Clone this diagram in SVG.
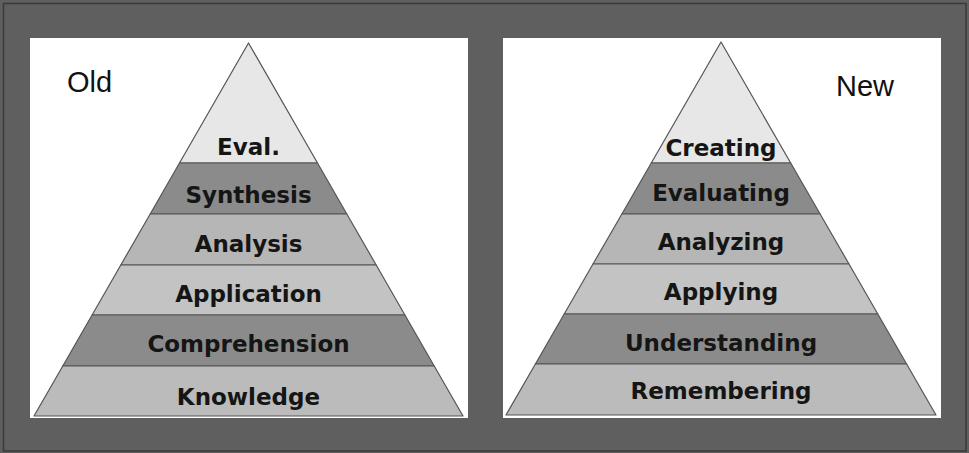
<svg xmlns="http://www.w3.org/2000/svg" width="969" height="453" viewBox="0 0 969 453">
<style>
.band{stroke:#555;stroke-width:1.2;stroke-linejoin:round}
.top{fill:#e7e7e7}
.dark{fill:#8b8b8b}
.mid{fill:#b6b6b6}
.light{fill:#c3c3c3}
.base{fill:#bbbbbb}
.lbl{font-family:"DejaVu Sans","Liberation Sans",sans-serif;font-weight:bold;font-size:23px;fill:#151515;text-anchor:middle}
.title{font-family:"Liberation Sans",Arial,sans-serif;font-size:29px;fill:#111}
</style>
<rect x="0" y="0" width="969" height="453" fill="#5f5f5f"/>
<rect x="3.5" y="3.5" width="962.5" height="447.5" fill="none" stroke="#3a3a3a" stroke-width="1.5"/>
<rect id="panel-old" x="30" y="38" width="438" height="380" fill="#ffffff"/>
<rect id="panel-new" x="503" y="38" width="438" height="380" fill="#ffffff"/>
<text class="title" x="67" y="92">Old</text>
<text class="title" x="836" y="96">New</text>
<g id="old-eval"><polygon class="band top" points="248.5,43 317.5,163 179.5,163"/><text class="lbl" x="248.5" y="155">Eval.</text></g>
<g id="old-synthesis"><polygon class="band dark" points="179.5,163 317.5,163 346.8,214 150.2,214"/><text class="lbl" x="248.5" y="203">Synthesis</text></g>
<g id="old-analysis"><polygon class="band mid" points="150.2,214 346.8,214 376.2,265 120.8,265"/><text class="lbl" x="248.5" y="252">Analysis</text></g>
<g id="old-application"><polygon class="band light" points="120.8,265 376.2,265 404.9,315 92.1,315"/><text class="lbl" x="248.5" y="302">Application</text></g>
<g id="old-comprehension"><polygon class="band dark" points="92.1,315 404.9,315 434.2,366 62.8,366"/><text class="lbl" x="248.5" y="352">Comprehension</text></g>
<g id="old-knowledge"><polygon class="band base" points="62.8,366 434.2,366 463,416 34,416"/><text class="lbl" x="248.5" y="405">Knowledge</text></g>
<g id="new-creating"><polygon class="band top" points="721,42 790.7,163 651.3,163"/><text class="lbl" x="721" y="156">Creating</text></g>
<g id="new-evaluating"><polygon class="band dark" points="651.3,163 790.7,163 820.1,214 621.9,214"/><text class="lbl" x="721" y="201">Evaluating</text></g>
<g id="new-analyzing"><polygon class="band mid" points="621.9,214 820.1,214 849,264 593,264"/><text class="lbl" x="721" y="250">Analyzing</text></g>
<g id="new-applying"><polygon class="band light" points="593,264 849,264 877.8,314 564.2,314"/><text class="lbl" x="721" y="300">Applying</text></g>
<g id="new-understanding"><polygon class="band dark" points="564.2,314 877.8,314 906.6,364 535.4,364"/><text class="lbl" x="721" y="351">Understanding</text></g>
<g id="new-remembering"><polygon class="band base" points="535.4,364 906.6,364 936,415 506,415"/><text class="lbl" x="721" y="399">Remembering</text></g>
</svg>
